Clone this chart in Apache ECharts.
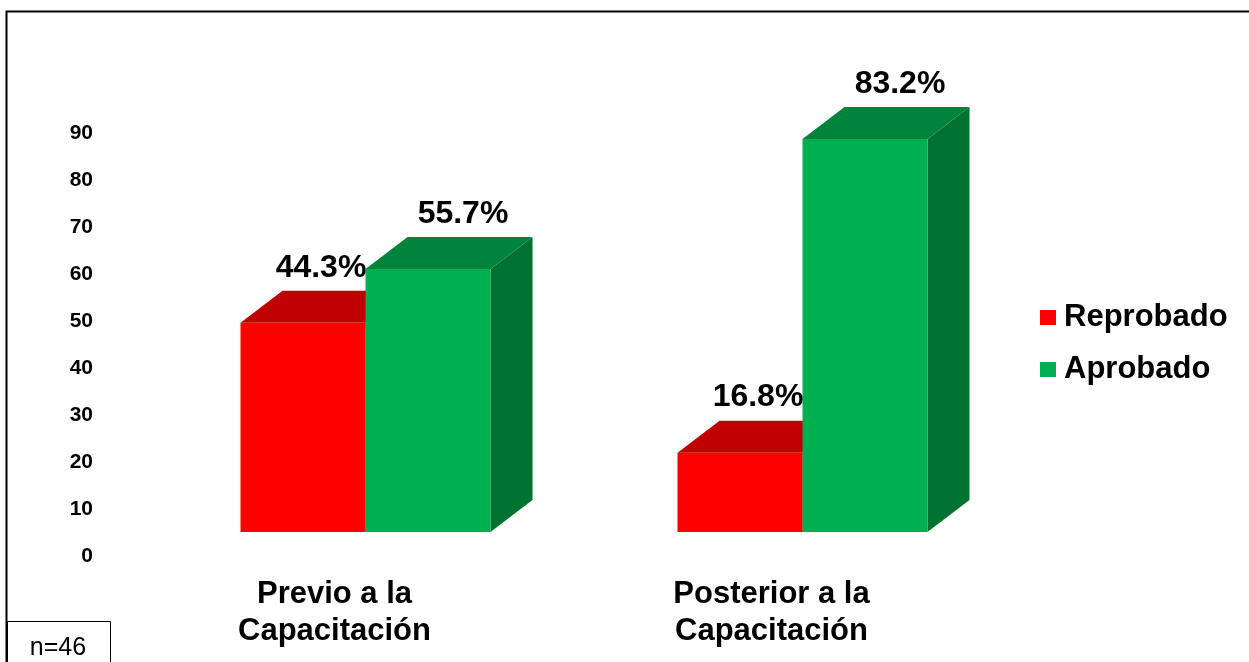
<!DOCTYPE html>
<html>
<head>
<meta charset="utf-8">
<script src="https://cdn.jsdelivr.net/npm/echarts@6/dist/echarts.min.js"></script>
<style>
  html, body { margin: 0; padding: 0; background: #fff; }
  #chart { width: 1249px; height: 662px; }
</style>
</head>
<body>
<div id="chart"></div>
<script>
// Categories and values (percent of participants)
const categories = ['Previo a la\nCapacitación', 'Posterior a la\nCapacitación'];
const seriesNames = ['Reprobado', 'Aprobado'];
const reprobado = [44.3, 16.8];
const aprobado = [55.7, 83.2];
const yMin = 0;
const yMax = 90;
const yStep = 10;

const FONT = '"Liberation Sans", Arial, Helvetica, sans-serif';

// Face colours for the pseudo-3D boxes
const palette = [
  { front: '#FF0000', top: '#C00000', side: '#A00000', labelShift: -3 },
  { front: '#00B050', top: '#00843C', side: '#00722F', labelShift: 14 }
];
const DX = 42;       // depth offset to the right
const DY = 32;       // depth offset upward
const BAR_RATIO = 125 / 437;

function makeRenderer(slot) {
  return function (params, api) {
    const cat = api.value(0);
    const v = api.value(1);
    const base = api.coord([cat, 0]);
    const top = api.coord([cat, v]);
    const band = api.size([1, 0])[0];
    const w = band * BAR_RATIO;
    const x0 = slot === 0 ? base[0] - w : base[0];
    const yT = top[1];
    const yB = base[1];
    const c = palette[slot];
    return {
      type: 'group',
      children: [
        {
          type: 'polygon',
          shape: { points: [[x0 + w, yT], [x0 + w + DX, yT - DY], [x0 + w + DX, yB - DY], [x0 + w, yB]] },
          style: { fill: c.side }
        },
        {
          type: 'polygon',
          shape: { points: [[x0, yT], [x0 + w, yT], [x0 + w + DX, yT - DY], [x0 + DX, yT - DY]] },
          style: { fill: c.top }
        },
        {
          type: 'rect',
          shape: { x: x0, y: yT, width: w, height: yB - yT },
          style: { fill: c.front }
        },
        {
          type: 'text',
          z2: 100,
          style: {
            x: x0 + w / 2 + DX / 2 + c.labelShift,
            y: yT - DY - 23,
            text: v.toFixed(1) + '%',
            align: 'center',
            verticalAlign: 'middle',
            fill: '#000',
            font: 'bold 32px ' + FONT
          }
        }
      ]
    };
  };
}

const option = {
  animation: false,
  backgroundColor: '#fff',
  legend: {
    data: seriesNames,
    orient: 'vertical',
    left: 1040,
    top: 302,
    padding: 0,
    icon: 'rect',
    itemWidth: 16,
    itemHeight: 15,
    itemGap: 21,
    textStyle: {
      fontFamily: FONT, fontSize: 31, fontWeight: 'bold', color: '#000',
      lineHeight: 30, padding: [0, 0, 0, 3]
    }
  },
  grid: [
    { left: 147, right: 228, top: 107, bottom: 130 },
    { left: 147, right: 228, top: 133, bottom: 106 }
  ],
  xAxis: [
    {
      type: 'category',
      gridIndex: 0,
      data: categories,
      axisLine: { show: false },
      axisTick: { show: false },
      axisLabel: {
        margin: 44,
        fontFamily: FONT,
        fontSize: 31,
        fontWeight: 'bold',
        color: '#000',
        lineHeight: 37,
        padding: [0, 62, 0, 0]
      }
    },
    { type: 'category', gridIndex: 1, data: categories, show: false }
  ],
  yAxis: [
    { type: 'value', gridIndex: 0, min: yMin, max: yMax, interval: yStep, show: false },
    {
      type: 'value',
      gridIndex: 1,
      min: yMin,
      max: yMax,
      interval: yStep,
      axisLine: { show: false },
      axisTick: { show: false },
      splitLine: { show: false },
      axisLabel: { margin: 54, fontFamily: FONT, fontSize: 21, fontWeight: 'bold', color: '#000' }
    }
  ],
  series: [
    {
      name: seriesNames[0],
      type: 'custom',
      xAxisIndex: 0,
      yAxisIndex: 0,
      itemStyle: { color: palette[0].front },
      renderItem: makeRenderer(0),
      encode: { x: 0, y: 1 },
      data: reprobado.map((v, i) => [i, v])
    },
    {
      name: seriesNames[1],
      type: 'custom',
      xAxisIndex: 0,
      yAxisIndex: 0,
      itemStyle: { color: palette[1].front },
      renderItem: makeRenderer(1),
      encode: { x: 0, y: 1 },
      data: aprobado.map((v, i) => [i, v])
    }
  ],
  graphic: [
    {
      type: 'rect',
      left: 4, top: 9,
      shape: { x: 0, y: 0, width: 1300, height: 700 },
      style: { fill: 'none', stroke: '#000', lineWidth: 2 },
      silent: true
    },
    {
      type: 'rect',
      shape: { x: 7.5, y: 621.5, width: 103, height: 60 },
      style: { fill: '#fff', stroke: '#000', lineWidth: 1 },
      silent: true
    },
    {
      type: 'text',
      style: {
        x: 58, y: 648,
        text: 'n=46',
        align: 'center',
        verticalAlign: 'middle',
        fill: '#000',
        font: '25px ' + FONT
      },
      silent: true
    }
  ]
};

const chart = echarts.init(document.getElementById('chart'), null, { renderer: 'canvas' });
chart.setOption(option);
</script>
</body>
</html>
